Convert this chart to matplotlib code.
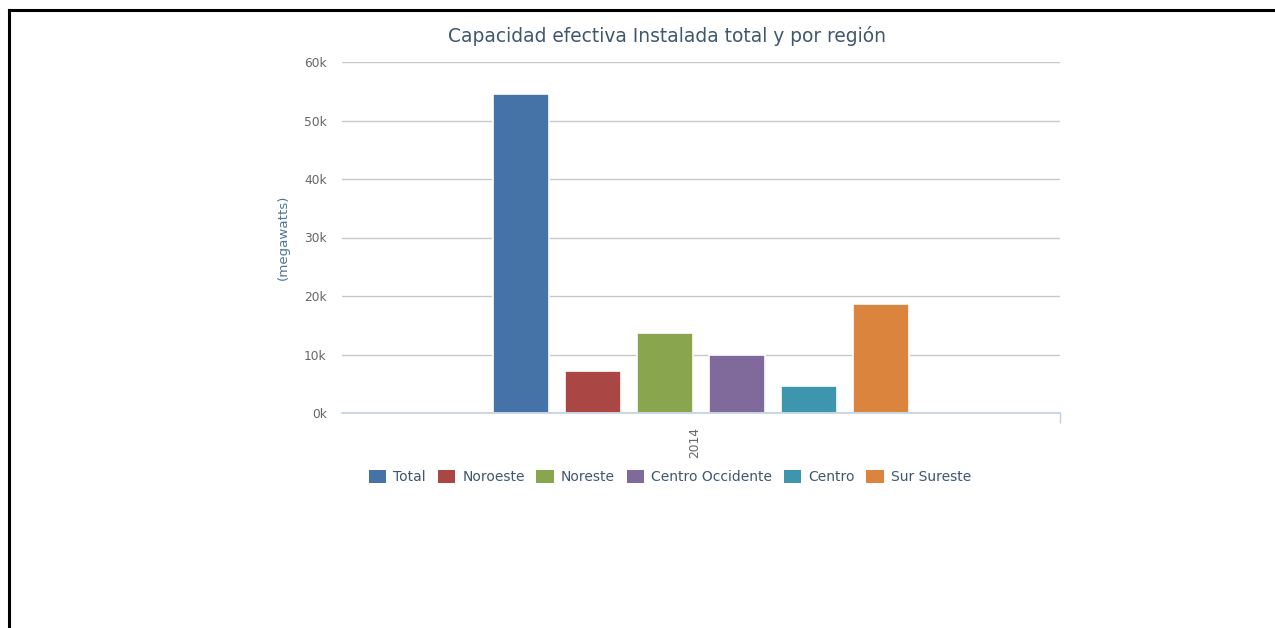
import matplotlib
matplotlib.use('Agg')
import matplotlib.pyplot as plt
import matplotlib.patheffects as pe
from matplotlib.lines import Line2D
from matplotlib.patches import FancyBboxPatch

# data
year = '2014'
regions = ['Total', 'Noroeste', 'Noreste', 'Centro Occidente', 'Centro', 'Sur Sureste']
capacity = [54500, 7100, 13600, 9900, 4650, 18700]
colors = ['#4572A7', '#AA4643', '#89A54E', '#80699B', '#3D96AE', '#DB843D']
yticks = [0, 10000, 20000, 30000, 40000, 50000, 60000]
ytick_labels = ['0k', '10k', '20k', '30k', '40k', '50k', '60k']

W, H = 1275, 628
fig = plt.figure(figsize=(W / 100, H / 100), dpi=100)
ax = fig.add_axes([342 / W, 1 - 413 / H, 718 / W, 351 / H])

pitch = 72 / 718
width = 56 / 718
shadow = [pe.SimplePatchShadow(offset=(1, -1), shadow_rgbFace='#999999', alpha=0.35), pe.Normal()]
for i, (name, val, c) in enumerate(zip(regions, capacity, colors)):
    x = (i - (len(regions) - 1) / 2) * pitch
    ax.bar(x, val, width=width, color=c, edgecolor='white', linewidth=1.2,
           zorder=3, label=name, path_effects=shadow)

ax.set_xlim(-0.5, 0.5)
ax.set_ylim(0, 60000)
ax.set_yticks(yticks)
ax.set_yticklabels(ytick_labels)
ax.tick_params(axis='y', length=0, pad=11, labelsize=8.8, labelcolor='#666666')
ax.set_xticks([0.5])
ax.set_xticklabels([''])
ax.tick_params(axis='x', length=7, width=1, color='#C0D0E0', direction='out')
ax.grid(axis='y', color='#C8C8C8', linewidth=1, zorder=0)
ax.set_axisbelow(True)
for s in ['top', 'right', 'left']:
    ax.spines[s].set_visible(False)
ax.spines['bottom'].set_color('#C0D0E0')
ax.spines['bottom'].set_linewidth(1.2)
ax.spines['bottom'].set_zorder(4)

ax.set_ylabel('(megawatts)', color='#4D759E', fontsize=9.6, labelpad=3)
ax.yaxis.set_label_coords((290 - 342) / 718, 0.5)

fig.text(695 / W, 1 - 443 / H, year, rotation=90, ha='center', va='center',
         fontsize=8.8, color='#666666')

fig.text(667 / W, 1 - 36 / H, 'Capacidad efectiva Instalada total y por región',
         ha='center', va='center', fontsize=13.4, color='#3E576F')

handles = [FancyBboxPatch((0, 0), 1, 1, boxstyle='round,pad=0.1', facecolor=c, edgecolor='none')
           for c in colors]
fig.legend(handles, regions, loc='center', bbox_to_anchor=(670 / W, 1 - 477 / H), ncol=6,
           frameon=False, fontsize=10, labelcolor='#3E576F', handlelength=1.25,
           handleheight=1.1, handletextpad=0.5, columnspacing=0.85)

# page border (top and left)
fig.add_artist(Line2D([9 / W, 1], [1 - 10 / H, 1 - 10 / H], color='black', linewidth=2.2,
                      transform=fig.transFigure))
fig.add_artist(Line2D([9 / W, 9 / W], [0, 1 - 10 / H], color='black', linewidth=2.2,
                      transform=fig.transFigure))

fig.savefig('out.png', dpi=100, facecolor='white')
